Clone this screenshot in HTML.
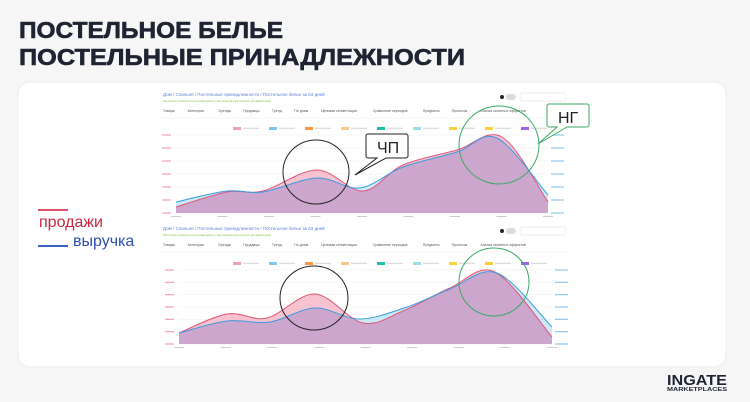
<!DOCTYPE html>
<html><head><meta charset="utf-8"><style>
html,body{margin:0;padding:0;background:#f6f6f6;}
body{width:750px;height:402px;overflow:hidden;position:relative;font-family:"Liberation Sans",sans-serif;}
</style></head><body>
<svg id="s" width="750" height="402" viewBox="0 0 750 402" xmlns="http://www.w3.org/2000/svg" style="position:absolute;left:0;top:0">
<rect x="0" y="0" width="750" height="402" fill="#f6f6f6"/>
<text x="19" y="38" font-family="Liberation Sans, sans-serif" font-weight="bold" font-size="23" fill="#1f2433" stroke="#1f2433" stroke-width="0.6" textLength="264" lengthAdjust="spacingAndGlyphs">ПОСТЕЛЬНОЕ БЕЛЬЕ</text>
<text x="19" y="65" font-family="Liberation Sans, sans-serif" font-weight="bold" font-size="23" fill="#1f2433" stroke="#1f2433" stroke-width="0.6" textLength="446" lengthAdjust="spacingAndGlyphs">ПОСТЕЛЬНЫЕ ПРИНАДЛЕЖНОСТИ</text>
<rect x="18" y="82" width="708" height="285" rx="12" fill="#ffffff" stroke="#ececec"/>
<line x1="38" y1="210" x2="68" y2="210" stroke="#d9536a" stroke-width="2"/>
<text x="39" y="227" font-size="16" fill="#c8283f">продажи</text>
<line x1="38" y1="246" x2="68" y2="246" stroke="#3b63c4" stroke-width="2"/>
<text x="73" y="246" font-size="16" fill="#2a4fb8">выручка</text>
<text x="667" y="385" font-weight="bold" font-size="15" fill="#1f2433" textLength="60" lengthAdjust="spacingAndGlyphs">INGATE</text>
<text x="667" y="391" font-weight="bold" font-size="5" fill="#1f2433" textLength="60" lengthAdjust="spacingAndGlyphs">MARKETPLACES</text>
<g id="charts"></g>
</svg>
<script>
function cr(p){let d="M"+p[0][0]+","+p[0][1];for(let i=0;i<p.length-1;i++){const a=p[Math.max(i-1,0)],b=p[i],c=p[i+1],e=p[Math.min(i+2,p.length-1)];d+=" C"+(b[0]+(c[0]-a[0])/6)+","+(b[1]+(c[1]-a[1])/6)+" "+(c[0]-(e[0]-b[0])/6)+","+(c[1]-(e[1]-b[1])/6)+" "+c[0]+","+c[1];}return d;}
const g=document.getElementById('charts');let h='';
function chart(top,pt,pb,pl,pr,pink,blue){
 h+=`<text x="163" y="${top+8}" font-size="4.5" fill="#5b7fd6">Дом / Спальня / Постельные принадлежности / Постельное белье  за 63 дней</text>`;
 h+=`<text x="163" y="${top+14}" font-size="3" fill="#8bc34a">https://www.wildberries.ru/catalog/dom-i-dacha/spalnya/postelnye-prinadlezhnosti</text>`;
 const tabs=['Товары','Категории','Бренды','Продавцы','Тренд','По дням','Ценовая сегментация','Сравнение периодов','Предметы','Прогнозы','Анализ сезонных эффектов'];
 let x=163;tabs.forEach((t,i)=>{h+=`<text x="${x}" y="${top+24}" font-size="3.5" fill="#555">${t}</text>`;x+=t.length*2.1+12;});
 h+=`<line x1="160" y1="${top+30}" x2="570" y2="${top+30}" stroke="#eee" stroke-width="0.6"/>`;
 h+=`<circle cx="502" cy="${top+9}" r="2" fill="#222"/><rect x="506" y="${top+6}" width="10" height="6" rx="3" fill="#ddd"/><rect x="520" y="${top+5}" width="46" height="8" rx="2" fill="none" stroke="#ddd" stroke-width="0.5"/>`;
 const lc=['#f4a0b4','#7ec8ef','#ff9a3c','#ffc68a','#20c0a8','#9be0e8','#ffd040','#ffcc40','#a060f0'];
 let lx=233;lc.forEach(c=>{h+=`<rect x="${lx}" y="${pt-8}" width="8" height="3" fill="${c}"/>`;h+=`<rect x="${lx+10}" y="${pt-7.3}" width="16" height="1.4" fill="#ddd"/>`;lx+=36;});
 for(let i=0;i<7;i++){const y=pt+(pb-pt)*i/6;h+=`<line x1="${pl}" y1="${y}" x2="${pr}" y2="${y}" stroke="#eee" stroke-width="0.5"/><rect x="${pl-14}" y="${y-0.6}" width="9" height="1.2" fill="#f6a0b8"/><rect x="${pr+3}" y="${y-0.6}" width="13" height="1.2" fill="#8cc8f0"/>`;}
 for(let i=0;i<9;i++){const xx=pl+(pr-pl)*i/8;h+=`<rect x="${xx-5}" y="${pb+3}" width="10" height="1" fill="#ccc"/>`;}
 const pp=cr(pink),bp=cr(blue);
 h+=`<path d="${pp} L${pr},${pb} L${pl},${pb}Z" fill="#f6b9c8" opacity="0.85"/>`;
 h+=`<path d="${bp} L${pr},${pb} L${pl},${pb}Z" fill="#a6dcef" opacity="0.6"/>`;
 h+=`<clipPath id="c${top}"><path d="${bp} L${pr},${pb} L${pl},${pb}Z"/></clipPath><path clip-path="url(#c${top})" d="${pp} L${pr},${pb} L${pl},${pb}Z" fill="#cda6cd"/>`;
 h+=`<path d="${pp}" fill="none" stroke="#e0577a" stroke-width="1"/><path d="${bp}" fill="none" stroke="#3a9be0" stroke-width="1"/>`;
}
chart(88,135,213,176,548,
 [[176,207],[227,192],[263,191],[317,170],[363,191],[403,165],[457,150],[502,137],[548,202]],
 [[176,202],[227,191],[263,192],[317,178],[360,188],[403,167],[457,152],[497,138],[548,195]]);
chart(222,270,344,179,552,
 [[179,333],[227,314],[267,318],[315,294],[363,323],[403,311],[450,288],[495,272],[552,337]],
 [[179,333],[227,321],[270,322],[315,308],[360,319],[407,307],[450,289],[497,273],[552,327]]);
h+=`<ellipse cx="316" cy="172" rx="33" ry="32" fill="none" stroke="#222" stroke-width="1"/>`;
h+=`<ellipse cx="499" cy="145" rx="40" ry="39" fill="none" stroke="#3aaa66" stroke-width="1"/>`;
h+=`<ellipse cx="314" cy="298" rx="34" ry="32" fill="none" stroke="#222" stroke-width="1"/>`;
h+=`<ellipse cx="494" cy="282" rx="35" ry="34" fill="none" stroke="#3aaa66" stroke-width="1"/>`;
h+=`<path d="M368,134 h38 a2,2 0 0 1 2,2 v20 a2,2 0 0 1 -2,2 h-20 l-31,17 l22,-17 h-9 a2,2 0 0 1 -2,-2 v-20 a2,2 0 0 1 2,-2z" fill="#fff" stroke="#222" stroke-width="1"/>`;
h+=`<text x="377" y="153" font-size="16" fill="#222">ЧП</text>`;
h+=`<path d="M549,104 h38 a2,2 0 0 1 2,2 v19 a2,2 0 0 1 -2,2 h-20 l-29,17 l19,-17 h-8 a2,2 0 0 1 -2,-2 v-19 a2,2 0 0 1 2,-2z" fill="#fff" stroke="#3aaa66" stroke-width="1"/>`;
h+=`<text x="558" y="123" font-size="16" fill="#222">НГ</text>`;
g.innerHTML=h;
</script>
</body></html>
